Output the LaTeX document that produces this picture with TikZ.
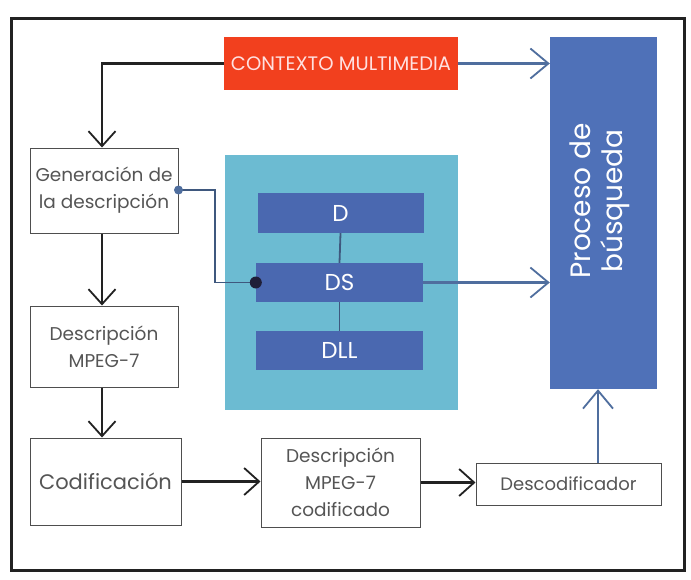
\documentclass[tikz,border=0pt]{standalone}
\usepackage{fontspec}
\setmainfont{Poppins}
\usetikzlibrary{arrows.meta}
\definecolor{redbox}{HTML}{F2401E}
\definecolor{procblue}{HTML}{4F71B8}
\definecolor{layerblue}{HTML}{4A68B0}
\definecolor{panel}{HTML}{6CBBD2}
\definecolor{boxtext}{HTML}{555555}
\definecolor{bluearrow}{HTML}{4F6E9E}
\definecolor{darkline}{HTML}{222222}
\tikzset{
  whitebox/.style={draw=darkline!80, line width=1pt, fill=white, text=boxtext, align=center, inner sep=0pt, font=\fontsize{18.5}{27}\selectfont},
  layer/.style={fill=layerblue, text=white, inner sep=0pt, font=\fontsize{23}{26}\selectfont},
  flow/.style={draw=darkline, line width=2.2pt, -{Straight Barb[length=15pt,width=27pt,line width=1.8pt]}},
  blueflow/.style={draw=bluearrow, line width=2.2pt, -{Straight Barb[length=18pt,width=30pt,line width=1.8pt]}},
  link/.style={draw=bluearrow!80!black, line width=1.8pt},
}
\begin{document}
\begin{tikzpicture}[x=1pt, y=-1pt]
  \useasboundingbox (0,0) rectangle (691,579);
  \fill[white] (0,0) rectangle (691,579);
  % outer frame
  \draw[line width=3pt, darkline] (11,18) rectangle (684,570);

  % main blocks
  \node[fill=redbox, text=white!88!red, minimum width=234pt, minimum height=53pt, inner sep=0pt, font=\fontsize{19.5}{22}\selectfont] (ctx) at (341,63.5) {CONTEXTO MULTIMEDIA};
  \node[fill=procblue, minimum width=107pt, minimum height=352pt, inner sep=0pt] (proc) at (603.5,213) {};
  \node[text=white, rotate=90, align=center, font=\fontsize{28}{32}\selectfont] (proclabel) at (600,201) {Proceso de\\búsqueda};

  \node[fill=panel, minimum width=233pt, minimum height=255pt, inner sep=0pt] (panelbox) at (341.5,282.5) {};
  \node[layer, minimum width=166pt, minimum height=40pt] (d) at (340.5,213) {D};
  \node[layer, minimum width=167pt, minimum height=39pt] (ds) at (339.5,282.5) {DS};
  \node[layer, minimum width=167pt, minimum height=39pt] (dll) at (339.5,350.5) {DLL};
  \draw[link] (d.south) -- (ds.north);
  \draw[link] (ds.south) -- (dll.north);

  \node[whitebox, minimum width=148pt, minimum height=85pt] (gen) at (104,190.5) {Generación de\\la descripción};
  \node[whitebox, minimum width=148pt, minimum height=81pt] (desc) at (104,346.5) {Descripción\\MPEG-7};
  \node[whitebox, minimum width=151pt, minimum height=87pt, font=\fontsize{21}{24}\selectfont] (cod) at (105.5,481.5) {Codificación};
  \node[whitebox, minimum width=159pt, minimum height=89pt] (codif) at (340.5,482.5) {Descripción\\MPEG-7\\codificado};
  \node[whitebox, minimum width=185pt, minimum height=42pt, font=\fontsize{18}{21}\selectfont] (dec) at (568.5,484) {Descodificador};

  % connectors
  \coordinate (ctxturn) at (102,63.5);
  \draw[flow] (ctx.west) -- (ctxturn) -- (ctxturn |- gen.north);
  \draw[blueflow] (ctx.east) -- (ctx.east -| proc.west);
  \coordinate (genport) at (gen.east |- 0,190);
  \coordinate (bendtop) at (215,190);
  \draw[link] (genport) -- (bendtop) -- (bendtop |- ds.west) -- (ds.west);
  \fill[bluearrow] (genport) circle (4.5pt);
  \fill[darkline!90!blue] (ds.west) circle (6pt);
  \draw[blueflow] (ds.east) -- (ds.east -| proc.west);
  \draw[flow] (gen.south -| 102,0) -- (desc.north -| 102,0);
  \draw[flow] (desc.south -| 102,0) -- (cod.north -| 102,0);
  \draw[flow] (cod.east) -- (cod.east -| codif.west);
  \draw[flow] (codif.east) -- (codif.east -| dec.west);
  \draw[blueflow] (dec.north -| 598,0) -- (proc.south -| 598,0);
\end{tikzpicture}
\end{document}
